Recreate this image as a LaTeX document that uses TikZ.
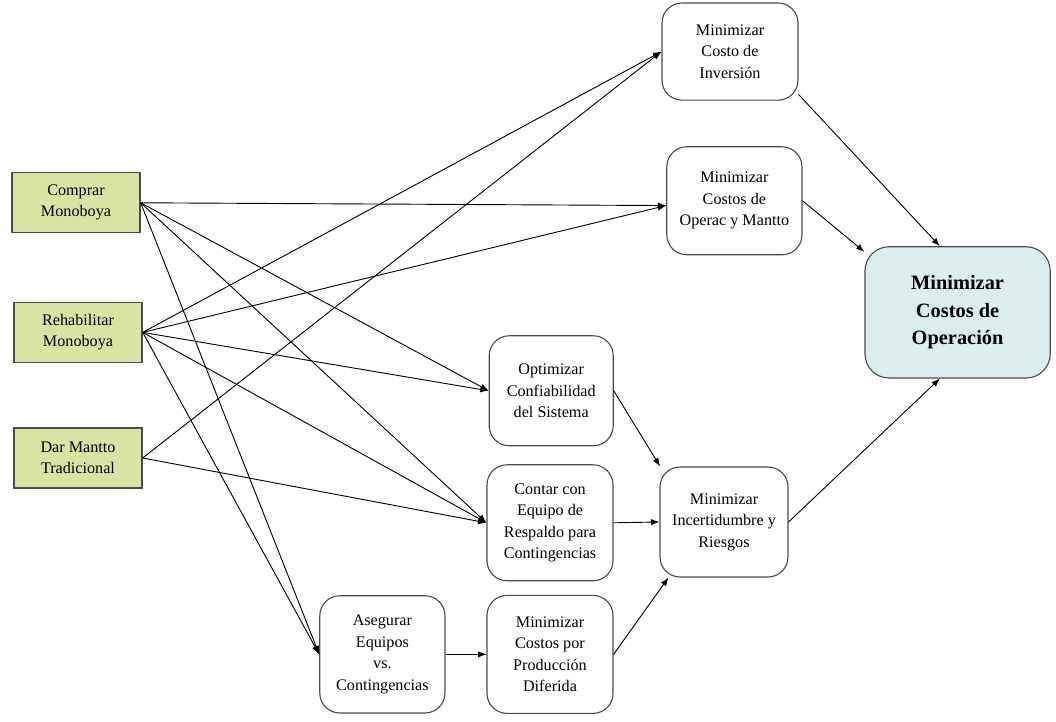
\documentclass[tikz,border=0pt]{standalone}
\usepackage{fontspec}
\setmainfont{Liberation Serif}
\usepackage{tikz}
\usetikzlibrary{arrows.meta}

\definecolor{accion}{HTML}{D7E4A4}
\definecolor{meta}{HTML}{DBEEEE}

\begin{document}
\begin{tikzpicture}[
  accionbox/.style={draw=black!70,line width=1pt,fill=accion,minimum width=3.2cm,minimum height=1.5cm,inner sep=0pt,align=center,font=\fontsize{11.5}{15}\selectfont},
  objbox/.style={draw=black!70,line width=0.8pt,rounded corners=0.5cm,inner sep=0pt,align=center,font=\fontsize{11.5}{15.3}\selectfont},
  flecha/.style={-{Latex[length=6pt,width=4.5pt]},line width=0.65pt}
]
%\draw[thin,gray] (0,0) grid (26.4,18.05);
\useasboundingbox (0,0) rectangle (26.4,18.05);

% acciones
\node[accionbox] (comprar) at (1.9,12.98) {Comprar\\Monoboya};
\node[accionbox] (rehab) at (1.95,9.74) {Rehabilitar\\Monoboya};
\node[accionbox] (dar) at (1.95,6.6) {Dar Mantto\\Tradicional};

% objetivos
\node[objbox,minimum width=3.4cm,minimum height=2.43cm] (inver) at (18.25,16.76) {Minimizar\\Costo de\\Inversión};
\node[objbox,minimum width=3.38cm,minimum height=2.7cm] (opman) at (18.36,13.03) {Minimizar\\Costos de\\Operac y Mantto};
\node[objbox,minimum width=3.1cm,minimum height=2.75cm] (confia) at (13.78,8.28) {Optimizar\\Confiabilidad\\del Sistema};
\node[objbox,minimum width=3.15cm,minimum height=2.9cm] (respaldo) at (13.75,4.98) {Contar con\\Equipo de\\Respaldo para\\Contingencias};
\node[objbox,minimum width=3.2cm,minimum height=2.75cm] (incert) at (18.1,5.0) {Minimizar\\Incertidumbre y\\Riesgos};
\node[objbox,minimum width=3.13cm,minimum height=2.93cm] (asegurar) at (9.56,1.69) {Asegurar\\Equipos\\vs.\\Contingencias};
\node[objbox,minimum width=3.15cm,minimum height=2.95cm] (diferida) at (13.75,1.69) {Minimizar\\Costos por\\Producción\\Diferida};
\node[objbox,fill=meta,rounded corners=0.6cm,minimum width=4.63cm,minimum height=3.28cm,font=\fontsize{14.5}{19.5}\selectfont\bfseries] (costop) at (23.94,10.24) {Minimizar\\Costos de\\Operación};

% desde las acciones
\draw[flecha] (comprar.east) -- (opman.184);
\draw[flecha] (comprar.east) -- (confia.west);
\draw[flecha] (comprar.east) -- (respaldo.west);
\draw[flecha] (comprar.east) -- (asegurar.west);

\draw[flecha] (rehab.east) -- (inver.west);
\draw[flecha] (rehab.east) -- (opman.184);
\draw[flecha] (rehab.east) -- (confia.west);
\draw[flecha] (rehab.east) -- (respaldo.west);
\draw[flecha] (rehab.east) -- (asegurar.west);

\draw[flecha] (dar.east) -- (inver.west);
\draw[flecha] (dar.east) -- (respaldo.west);

% hacia la meta
\draw[flecha] (asegurar.east) -- (diferida.west);
\draw[flecha] (confia.east) -- (incert.139);
\draw[flecha] (respaldo.east) -- (incert.west);
\draw[flecha] (diferida.east) -- (incert.225);
\draw[flecha] (inver.-32) -- (costop.105);
\draw[flecha] (opman.east) -- (costop.147);
\draw[flecha] (incert.east) -- (costop.255);
\end{tikzpicture}
\end{document}
